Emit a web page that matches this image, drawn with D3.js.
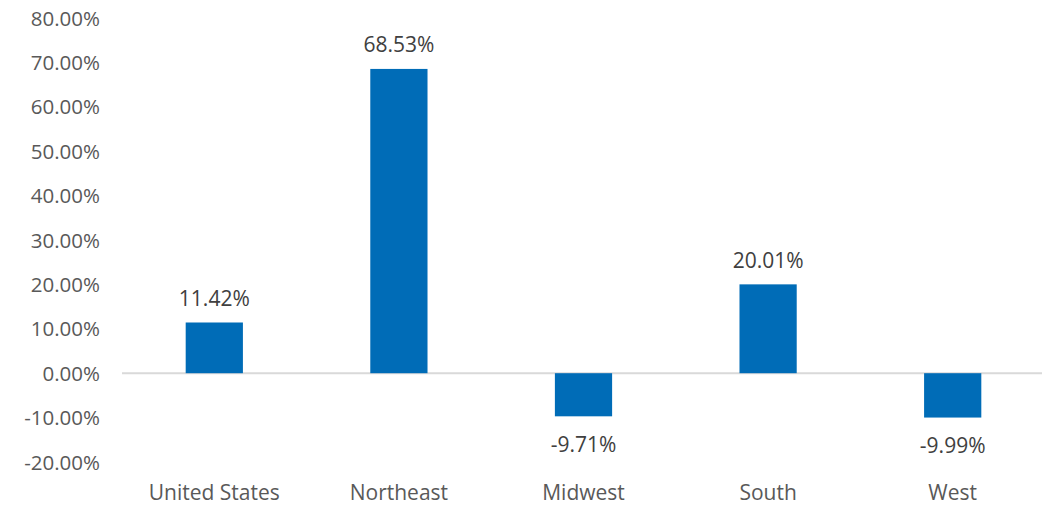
<!DOCTYPE html>
<html>
<head>
<meta charset="utf-8">
<script src="https://cdn.jsdelivr.net/npm/d3@7"></script>
<style>
  html, body { margin: 0; padding: 0; background: #fff; }
  svg { display: block; }
  text { font-family: "Open Sans", "Liberation Sans", sans-serif; }
</style>
</head>
<body>
<script>
// Percentage change by region
const categories = ["United States", "Northeast", "Midwest", "South", "West"];
const values = [11.42, 68.53, -9.71, 20.01, -9.99];
const yTicks = [-20, -10, 0, 10, 20, 30, 40, 50, 60, 70, 80];

const width = 1042, height = 507;
const margin = { top: 18, right: -3, bottom: 45, left: 122 };

const svg = d3.select("body").append("svg")
  .attr("width", width).attr("height", height);

const x = d3.scaleBand()
  .domain(categories)
  .range([margin.left, width - margin.right])
  .paddingInner(0.69).paddingOuter(0.345);

const y = d3.scaleLinear()
  .domain([-20, 80])
  .range([height - margin.bottom, margin.top]);

const fmt = v => v.toFixed(2) + "%";

// Y axis labels (no axis line, no ticks)
const yAxis = d3.axisLeft(y).tickValues(yTicks).tickFormat(fmt).tickSize(0).tickPadding(0);
const gy = svg.append("g").attr("transform", `translate(100,0)`).call(yAxis);
gy.select(".domain").remove();
gy.selectAll("text")
  .attr("fill", "#595959")
  .style("font-size", "20.5px")
  .attr("dy", "0.35em");

// Zero baseline
svg.append("line")
  .attr("x1", margin.left).attr("x2", width)
  .attr("y1", y(0)).attr("y2", y(0))
  .attr("stroke", "#d9d9d9").attr("stroke-width", 2);

// Bars
svg.append("g").selectAll("rect").data(values).join("rect")
  .attr("x", (d, i) => x(categories[i]))
  .attr("width", x.bandwidth())
  .attr("y", d => y(Math.max(0, d)))
  .attr("height", d => Math.abs(y(d) - y(0)))
  .attr("fill", "#006cb7");

// Data labels
svg.append("g").selectAll("text").data(values).join("text")
  .attr("x", (d, i) => x(categories[i]) + x.bandwidth() / 2)
  .attr("y", d => d >= 0 ? y(d) - 24 : y(d) + 28)
  .attr("dy", "0.35em")
  .attr("text-anchor", "middle")
  .attr("fill", "#404040")
  .style("font-size", "21px")
  .text(fmt);

// Category labels
const xAxis = d3.axisBottom(x).tickSize(0).tickPadding(0);
const gx = svg.append("g").attr("transform", `translate(0,493)`).call(xAxis);
gx.select(".domain").remove();
gx.selectAll("text")
  .attr("y", 0)
  .attr("dy", "0.35em")
  .attr("fill", "#595959")
  .style("font-size", "21px");
</script>
</body>
</html>
